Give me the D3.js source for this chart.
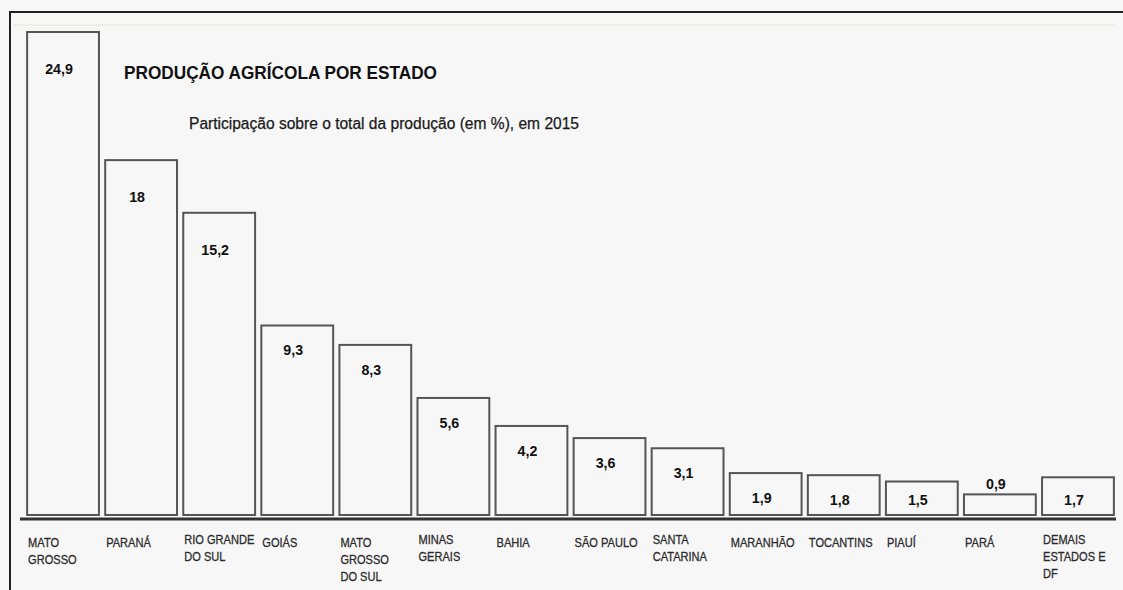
<!DOCTYPE html>
<html>
<head>
<meta charset="utf-8">
<script src="https://cdn.jsdelivr.net/npm/d3@7"></script>
<style>
  body { margin: 0; background: #f7f7f7; }
  svg { display: block; }
</style>
</head>
<body>
<div id="chart"></div>
<script>
// data
var estados = ["MATO GROSSO", "PARANÁ", "RIO GRANDE DO SUL", "GOIÁS", "MATO GROSSO DO SUL",
  "MINAS GERAIS", "BAHIA", "SÃO PAULO", "SANTA CATARINA", "MARANHÃO", "TOCANTINS",
  "PIAUÍ", "PARÁ", "DEMAIS ESTADOS E DF"];
var rotulos = [["MATO", "GROSSO"], ["PARANÁ"], ["RIO GRANDE", "DO SUL"], ["GOIÁS"],
  ["MATO", "GROSSO", "DO SUL"], ["MINAS", "GERAIS"], ["BAHIA"], ["SÃO PAULO"],
  ["SANTA", "CATARINA"], ["MARANHÃO"], ["TOCANTINS"], ["PIAUÍ"], ["PARÁ"],
  ["DEMAIS", "ESTADOS E", "DF"]];
var participacao = [24.9, 18, 15.2, 9.3, 8.3, 5.6, 4.2, 3.6, 3.1, 1.9, 1.8, 1.5, 0.9, 1.7];

var W = 1123, H = 590;
var base = 515;

var svg = d3.select("#chart").append("svg")
  .attr("width", W)
  .attr("height", H)
  .style("background", "#f7f7f7");

// frame (left and top only)
svg.append("path")
  .attr("d", "M10,590 L10,12 L1123,12")
  .attr("fill", "none")
  .attr("stroke", "#222")
  .attr("stroke-width", 2);

// faint line under the frame top
svg.append("line")
  .attr("x1", 14).attr("x2", 1115)
  .attr("y1", 25).attr("y2", 25)
  .attr("stroke", "#e6edcf")
  .attr("stroke-width", 1.5)
  .attr("stroke-dasharray", "3,1");

var x = d3.scaleBand()
  .domain(estados)
  .range([24, 1117])
  .paddingInner(0.08)
  .paddingOuter(0.04);

// the original bars are not quite proportional; a light power scale follows them better
var y = d3.scalePow()
  .exponent(0.95)
  .domain([0, 24.9])
  .range([base, 32]);

var fmt = d3.formatLocale({ decimal: ",", thousands: ".", grouping: [3], currency: ["R$", ""] }).format("~g");

svg.selectAll("rect.bar")
  .data(participacao)
  .enter()
  .append("rect")
  .attr("class", "bar")
  .attr("x", function(d, i) { return x(estados[i]); })
  .attr("y", function(d) { return y(d); })
  .attr("width", x.bandwidth())
  .attr("height", function(d) { return base - y(d); })
  .attr("fill", "#f7f7f7")
  .attr("stroke", "#555")
  .attr("stroke-width", 2);

// value labels
svg.selectAll("text.val")
  .data(participacao)
  .enter()
  .append("text")
  .attr("class", "val")
  .attr("transform", function(d, i) {
    var top = y(d), ty;
    if (d < 1) ty = top - 5;
    else ty = Math.min(top + (d > 10 ? 42 : 30), base - 10);
    return "translate(" + (x(estados[i]) + x.bandwidth() / 2 - 4) + "," + ty + ") scale(0.92,1)";
  })
  .attr("text-anchor", "middle")
  .attr("font-family", "'Liberation Sans', Arial, sans-serif")
  .attr("font-weight", "bold")
  .attr("font-size", 15.5)
  .attr("fill", "#111")
  .text(function(d) { return fmt(d); });

// axis line
svg.append("line")
  .attr("x1", 20).attr("x2", 1116)
  .attr("y1", 519).attr("y2", 519)
  .attr("stroke", "#333")
  .attr("stroke-width", 3);

// category labels (narrow)
var cat = svg.selectAll("text.cat")
  .data(rotulos)
  .enter()
  .append("text")
  .attr("class", "cat")
  .attr("transform", function(d, i) {
    return "translate(" + (x(estados[i]) + 1) + "," + (d.length > 1 && d[0].length > 4 ? 544 : 547) + ") scale(0.82,1)";
  })
  .attr("font-family", "'Liberation Sans', Arial, sans-serif")
  .attr("font-size", 13.5)
  .attr("fill", "#2a2a2a")
  .attr("stroke", "#2a2a2a")
  .attr("stroke-width", 0.3);

cat.selectAll("tspan")
  .data(function(d) { return d; })
  .enter()
  .append("tspan")
  .attr("x", 0)
  .attr("dy", function(d, j) { return j === 0 ? 0 : 17; })
  .text(function(d) { return d; });

// titles
svg.append("text")
  .attr("x", 124)
  .attr("y", 79)
  .attr("font-family", "'Liberation Sans', Arial, sans-serif")
  .attr("font-weight", "bold")
  .attr("font-size", 18.5)
  .attr("textLength", 313)
  .attr("lengthAdjust", "spacingAndGlyphs")
  .attr("fill", "#111")
  .text("PRODUÇÃO AGRÍCOLA POR ESTADO");

svg.append("text")
  .attr("x", 189)
  .attr("y", 129)
  .attr("font-family", "'Liberation Sans', Arial, sans-serif")
  .attr("font-size", 16)
  .attr("textLength", 390)
  .attr("lengthAdjust", "spacingAndGlyphs")
  .attr("fill", "#1a1a1a")
  .attr("stroke", "#1a1a1a")
  .attr("stroke-width", 0.25)
  .text("Participação sobre o total da produção (em %), em 2015");
</script>
</body>
</html>
